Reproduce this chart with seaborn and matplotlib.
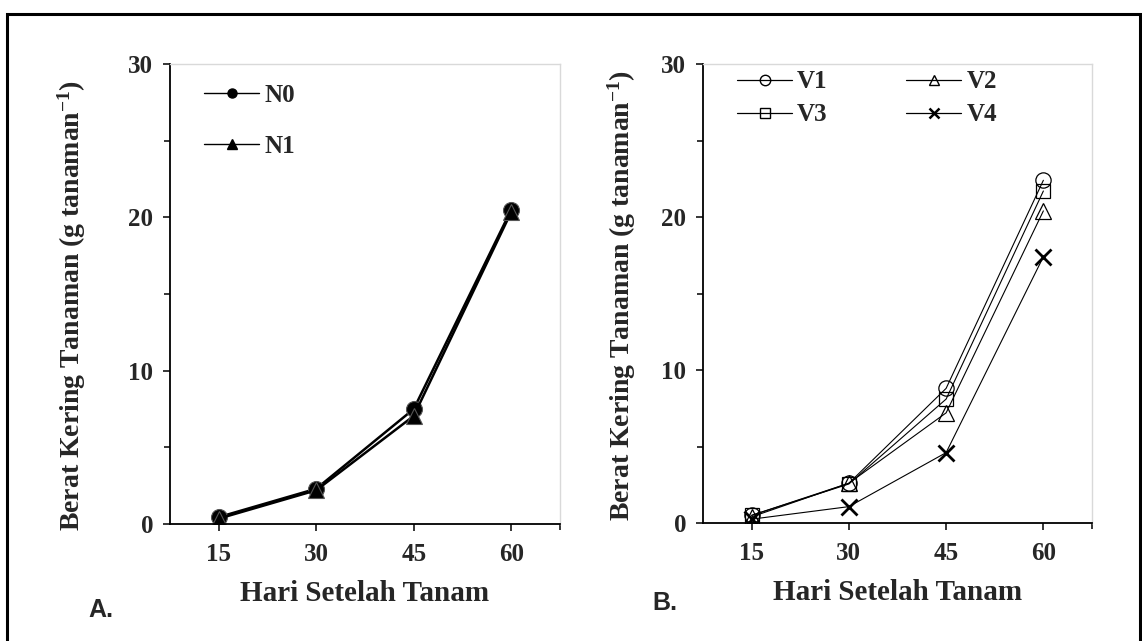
import matplotlib
matplotlib.use("Agg")
import matplotlib.pyplot as plt
from matplotlib.lines import Line2D
from matplotlib.patches import Rectangle
from matplotlib.ticker import MultipleLocator, FixedLocator
import numpy as np
import pandas as pd
import seaborn as sns

# data
days = ["15", "30", "45", "60"]
n0 = [0.45, 2.3, 7.5, 20.5]
n1 = [0.35, 2.2, 7.05, 20.35]
v1 = [0.5, 2.6, 8.8, 22.4]
v2 = [0.4, 2.6, 7.2, 20.4]
v3 = [0.5, 2.55, 8.1, 21.7]
v4 = [0.25, 1.07, 4.6, 17.4]

Y_LABEL = "Berat Kering Tanaman (g tanaman$^{\\mathbf{-1}}$)"
X_LABEL = "Hari Setelah Tanam"

sns.set_theme(style="ticks")
plt.rcParams["font.family"] = ["Liberation Serif", "DejaVu Serif"]
plt.rcParams["mathtext.fontset"] = "custom"
plt.rcParams["mathtext.rm"] = "Liberation Serif:bold"
plt.rcParams["mathtext.bf"] = "Liberation Serif:bold"
plt.rcParams["mathtext.default"] = "bf"

W, H = 1142, 641
fig = plt.figure(figsize=(W / 100, H / 100), dpi=100)
fig.patch.set_facecolor("white")


def px_axes(left, top, right, bottom):
    return fig.add_axes([left / W, 1 - bottom / H, (right - left) / W, (bottom - top) / H])


def long_frame(series):
    rows = []
    for name, vals in series.items():
        for i, v in enumerate(vals):
            rows.append({"pos": i, "value": v, "series": name})
    return pd.DataFrame(rows)


def style_axes(ax, box, label_x, label_y):
    left, top, right, bottom = box
    ax.set_xlim(-0.5, 3.5)
    ax.set_ylim(0, 30)
    ax.xaxis.set_major_locator(FixedLocator([0, 1, 2, 3]))
    ax.xaxis.set_minor_locator(FixedLocator([3.5]))
    ax.set_xticklabels(days)
    ax.yaxis.set_major_locator(MultipleLocator(10))
    ax.yaxis.set_minor_locator(MultipleLocator(5))
    for side in ["left", "bottom"]:
        ax.spines[side].set_color("black")
        ax.spines[side].set_linewidth(1.3)
    for side in ["top", "right"]:
        ax.spines[side].set_visible(True)
        ax.spines[side].set_color("#d9d9d9")
        ax.spines[side].set_linewidth(1.0)
    ax.tick_params(which="major", direction="out", length=5, width=1.1, color="black",
                   labelsize=18, pad=9)
    ax.tick_params(which="minor", direction="out", length=4.5, width=1.1, color="black")
    ax.tick_params(axis="y", which="major", pad=7)
    for lab in ax.get_xticklabels() + ax.get_yticklabels():
        lab.set_fontweight("bold")
    ax.set_xlabel(X_LABEL, fontsize=21, fontweight="bold", labelpad=10)
    ax.set_ylabel(Y_LABEL, fontsize=20, fontweight="bold")
    ax.yaxis.set_label_coords((label_x - left) / (right - left),
                              (bottom - label_y) / (bottom - top))
    ax.yaxis.label.set_verticalalignment("center")
    ax.set_facecolor("white")
    ax.grid(False)


# panel A
boxA = (170, 64, 560, 524)
axA = px_axes(*boxA)
dfA = long_frame({"N0": n0, "N1": n1})
specA = {"N0": "o", "N1": "^"}
for name, mk in specA.items():
    sns.lineplot(data=dfA[dfA["series"] == name], x="pos", y="value", ax=axA,
                 color="black", linewidth=1.8, marker=mk, markersize=11.5,
                 markerfacecolor="black", markeredgecolor="#555555",
                 markeredgewidth=0.8, legend=False)
style_axes(axA, boxA, 72, 305)
handlesA = [Line2D([], [], color="black", lw=1.0, marker=specA[k], ms=6.5,
                   mfc="black", mec="black") for k in specA]
axA.legend(handlesA, list(specA), loc="upper left", bbox_to_anchor=(0.03, 1.005),
           frameon=False, prop={"family": "Liberation Serif", "weight": "bold", "size": 18},
           handlelength=2.2, handletextpad=0.2, labelspacing=1.1)

# panel B
boxB = (703, 64, 1092, 523)
axB = px_axes(*boxB)
dfB = long_frame({"V1": v1, "V2": v2, "V3": v3, "V4": v4})
specB = {"V1": ("o", 11, 0.9), "V2": ("^", 11, 0.9), "V3": ("s", 10.5, 0.9), "V4": ("x", 11, 2.0)}
for name, (mk, ms, mew) in specB.items():
    sns.lineplot(data=dfB[dfB["series"] == name], x="pos", y="value", ax=axB,
                 color="black", linewidth=0.8, marker=mk, markersize=ms,
                 markerfacecolor="none", markeredgecolor="black",
                 markeredgewidth=mew, legend=False)
style_axes(axB, boxB, 622, 295)
legend_order = ["V1", "V3", "V2", "V4"]  # column-major fill gives rows V1 V2 / V3 V4
handlesB = [Line2D([], [], color="black", lw=0.9, marker=specB[k][0], ms=7.5,
                   mfc="none", mec="black", mew=1.0 if k != "V4" else 1.8) for k in legend_order]
axB.legend(handlesB, legend_order, loc="upper left", bbox_to_anchor=(0.03, 1.035),
           ncol=2, frameon=False,
           prop={"family": "Liberation Serif", "weight": "bold", "size": 18},
           handlelength=2.2, handletextpad=0.2, labelspacing=0.4, columnspacing=3.15)

# panel letters
fig.text(88 / W, 1 - 610 / H, "A.", fontsize=18, fontweight="bold",
         family="Liberation Sans", va="center", ha="left")
fig.text(652 / W, 1 - 603 / H, "B.", fontsize=18, fontweight="bold",
         family="Liberation Sans", va="center", ha="left")

# outer frame
fig.patches.append(Rectangle((7 / W, -0.02), (1140 - 7) / W, (641 - 14) / H + 0.02,
                             transform=fig.transFigure, fill=False, lw=2.2,
                             edgecolor="black", clip_on=False))

fig.savefig("out.png", dpi=100, facecolor="white")
